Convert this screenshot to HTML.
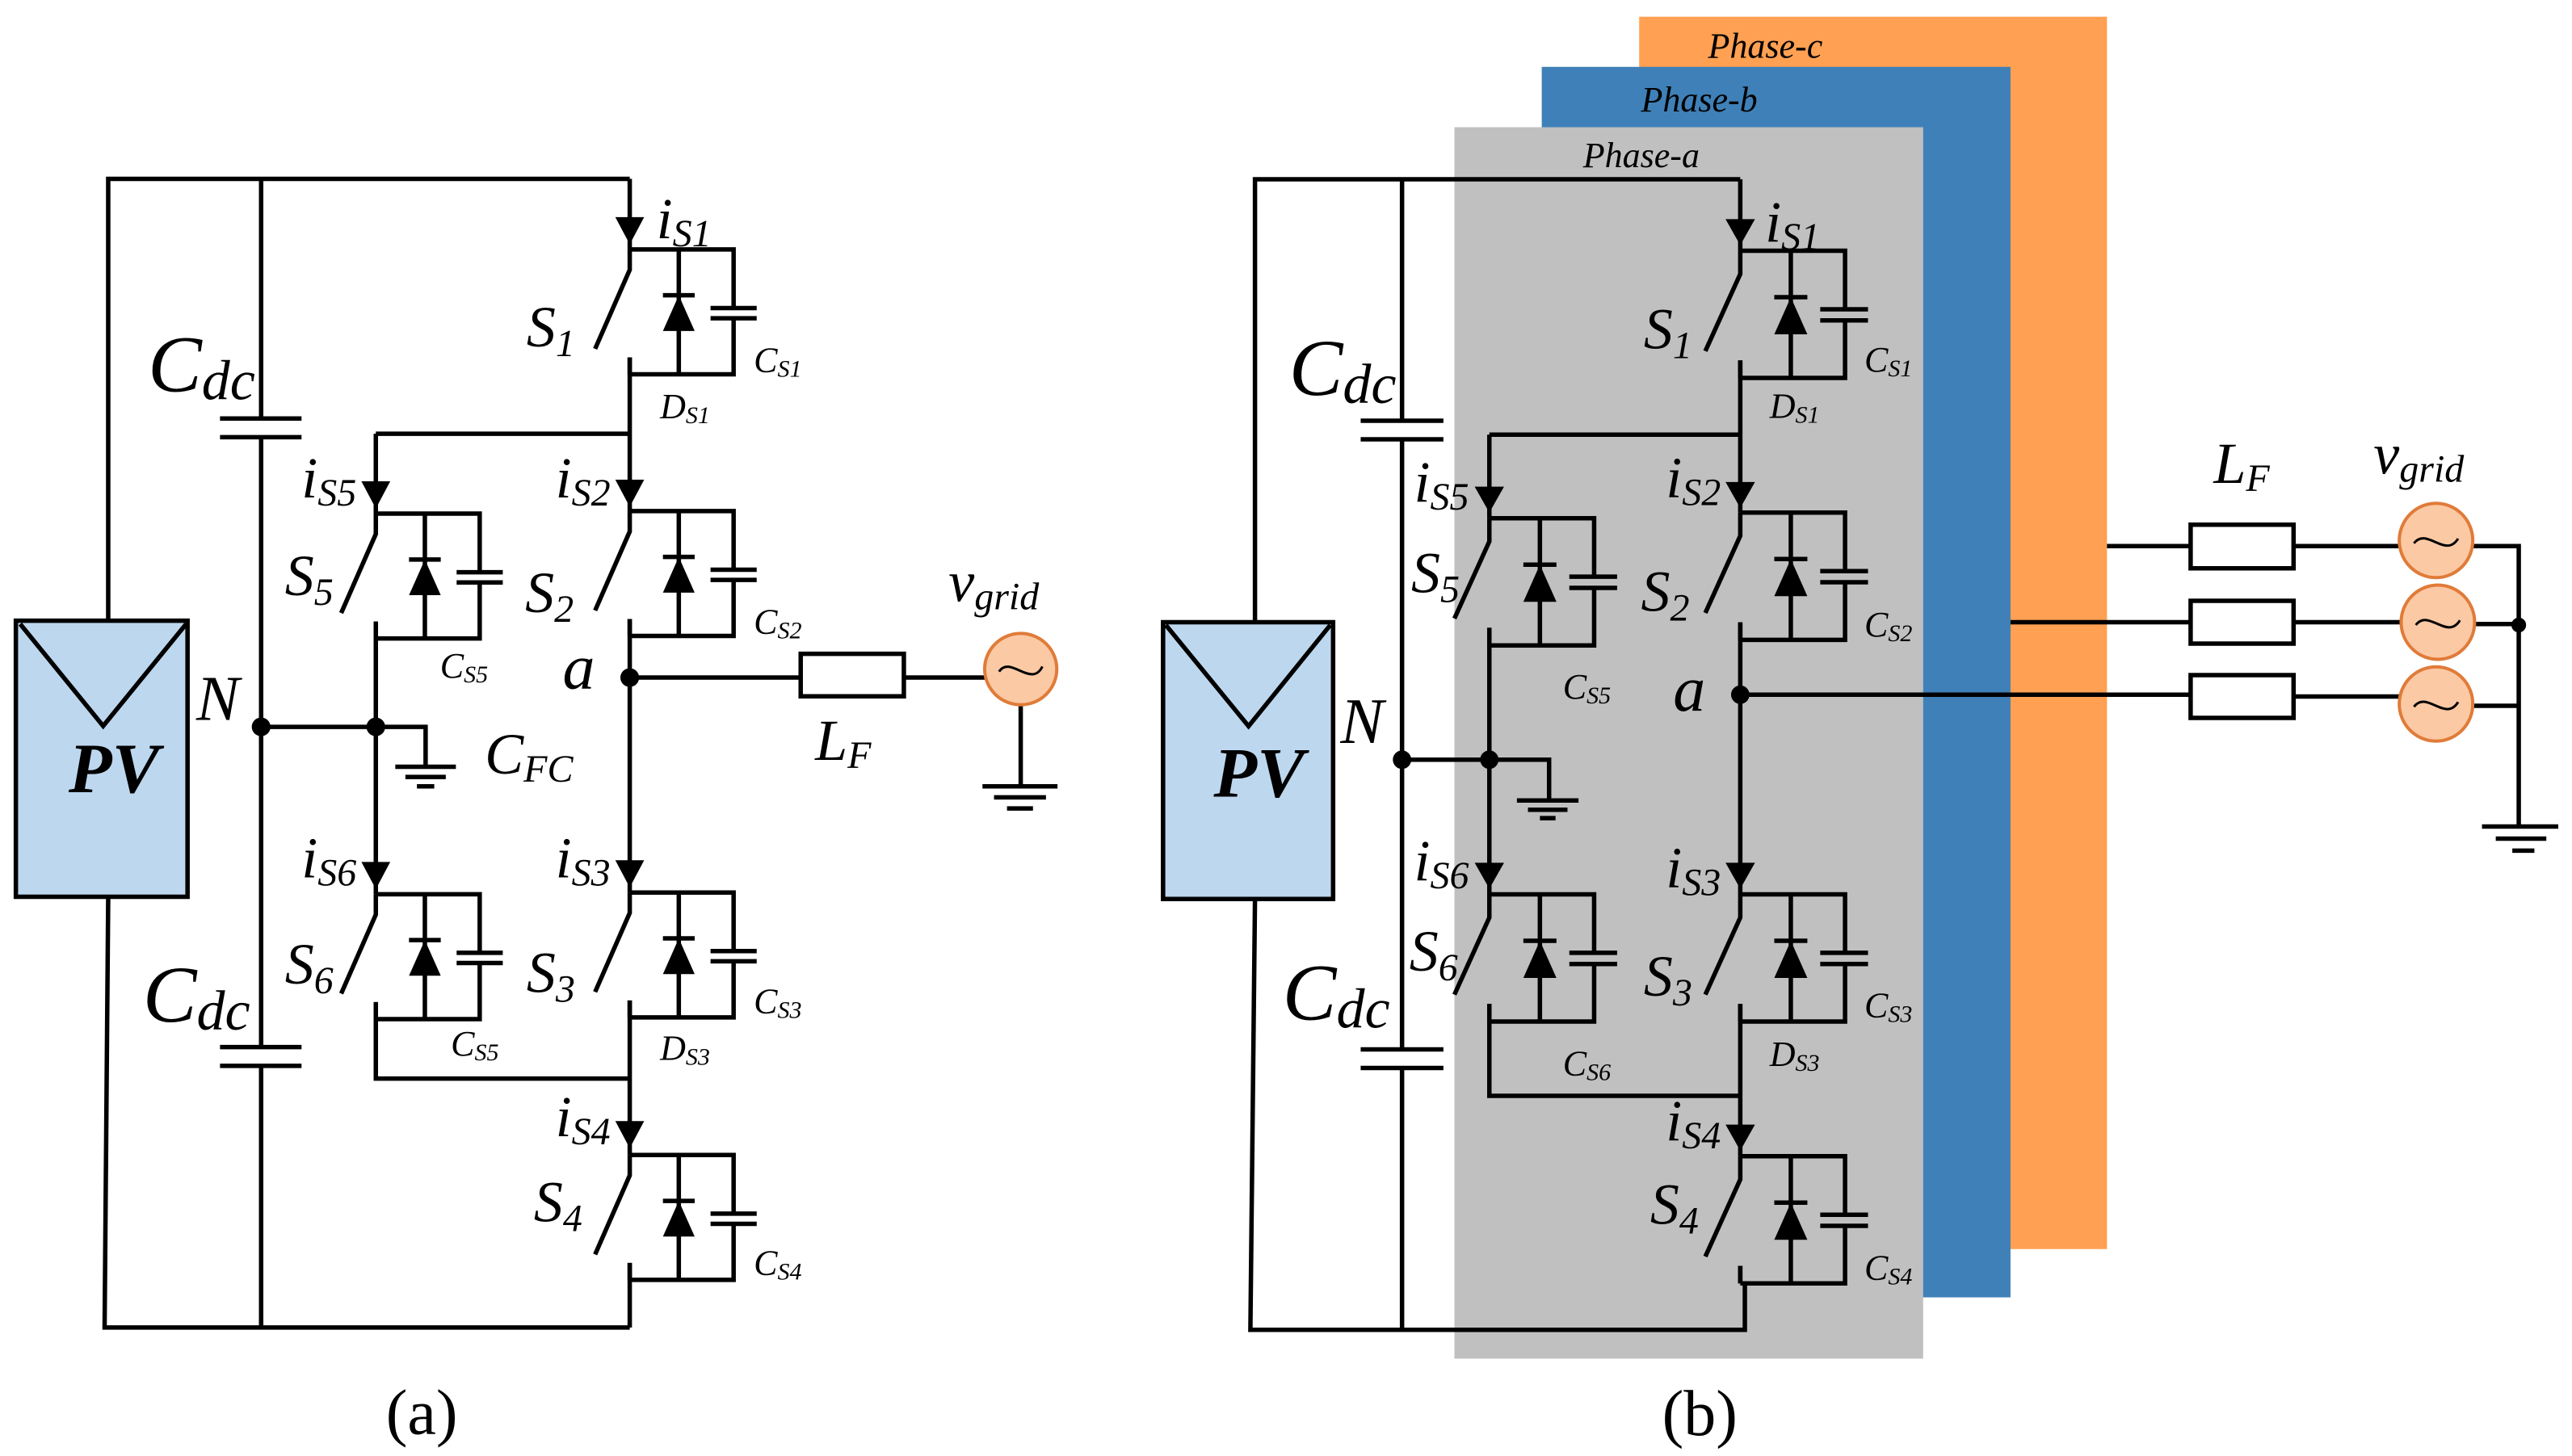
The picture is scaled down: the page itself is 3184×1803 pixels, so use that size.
<!DOCTYPE html>
<html><head><meta charset="utf-8"><style>
html,body{margin:0;padding:0;background:#fff}
svg{display:block}
.w{fill:none;stroke:#000;stroke-width:5.5;vector-effect:non-scaling-stroke;stroke-linejoin:miter}
.w *{vector-effect:non-scaling-stroke}
text{font-family:"Liberation Serif","Times New Roman","DejaVu Serif",serif;font-style:italic;fill:#000}
.L{font-size:72px}.sub{font-size:48px}
.s{font-size:44px}.ss{font-size:30px}
.big{font-size:100px}.bs{font-size:70px}
.pv{font-size:88px;font-weight:bold}
.cap{font-size:80px;font-style:normal}
.ph{font-size:44px}
</style></head><body>
<svg width="3184" height="1803" viewBox="0 0 3184 1803" xmlns="http://www.w3.org/2000/svg">
<defs>
<g id="cA">
<path class="w" d="M0,0 H144 V69 M144,81 V147 H0 M112,69 H176 M112,81 H176 M68,0 V147 M46,54 H90 M0,0 V24 L-48,117 M0,127 V147"/>
<polygon points="46,96 90,96 68,54" fill="#000"/>
</g>
<g id="cB">
<path class="w" d="M0,0 H114 V63 M114,75 V137 H0 M87,63 H139 M87,75 H139 M55,0 V137 M37,50 H73 M0,0 V25 L-38,108 M0,118 V137"/>
<polygon points="37,90 73,90 55,50" fill="#000"/>
</g>
<polygon id="arA" points="-20,-32 20,-32 0,0" fill="#000"/>
<polygon id="arB" points="-16,-28 16,-28 0,0" fill="#000"/>
</defs>

<!-- Panel A -->
<g transform="translate(0,150) scale(0.893,1.052)">
<rect x="22" y="588" width="238" height="325" class="w" style="fill:#bdd7ee"/>
<path class="w" d="M28,592 L143,712 L258,592"/>
<path class="w" d="M150,588 V68 H873 M150,913 L145,1420 H873
M362,68 V350 M305,350 H418 M305,372 H418 M362,372 V1090 M305,1090 H418 M305,1112 H418 M362,1112 V1420
M362,713 H590 V760 M548,760 H632 M562,772 H618 M578,783 H602
M873,68 V151 M873,278 V459 M873,586 V908 M873,1035 V1217 M873,1344 V1420
M521,368 H873 M521,368 V462 M521,589 V910 M521,1037 V1127 H873
M873,655 H1110 M1253,655 H1366 M1415,688 V783 M1362,783 H1466 M1378,796 H1450 M1396,809 H1432"/>
<rect x="1110" y="627" width="143" height="50" class="w" fill="none"/>
<ellipse cx="1415" cy="645" rx="50" ry="42" fill="#fbc9a4" stroke="#e07b39" stroke-width="4" vector-effect="non-scaling-stroke"/>
<path class="w" d="M1385,648 C1400,628 1430,668 1445,642" style="stroke-width:3"/>
<use href="#cA" x="873" y="151"/><use href="#cA" x="873" y="459"/><use href="#cA" x="873" y="908"/><use href="#cA" x="873" y="1217"/>
<use href="#cA" x="521" y="462"/><use href="#cA" x="521" y="910"/>
<use href="#arA" x="873" y="145"/><use href="#arA" x="873" y="454"/><use href="#arA" x="873" y="902"/><use href="#arA" x="873" y="1209"/>
<use href="#arA" x="521" y="456"/><use href="#arA" x="521" y="904"/>
<ellipse cx="362" cy="713" rx="13" ry="11"/><ellipse cx="521" cy="713" rx="13" ry="11"/><ellipse cx="873" cy="655" rx="13" ry="11"/>

<text class="pv" transform="translate(95,790) scale(1.12,0.95)">PV</text>
<text class="big" transform="translate(205,318) scale(1.12,0.95)">C<tspan class="bs" dy="10">dc</tspan></text>
<text class="big" transform="translate(198,1060) scale(1.12,0.95)">C<tspan class="bs" dy="10">dc</tspan></text>
<text style="font-size:80px" transform="translate(272,705) scale(1.12,0.95)">N</text>
<text style="font-size:80px" transform="translate(780,668) scale(1.12,0.95)">a</text>
<text class="L" transform="translate(910,138) scale(1.12,0.95)">i<tspan class="sub" dy="10">S1</tspan></text>
<text class="L" transform="translate(730,265) scale(1.12,0.95)">S<tspan class="sub" dy="12">1</tspan></text>
<text class="s" transform="translate(1045,295) scale(1.12,0.95)">C<tspan class="ss" dy="6">S1</tspan></text>
<text class="s" transform="translate(915,350) scale(1.12,0.95)">D<tspan class="ss" dy="6">S1</tspan></text>
<text class="L" transform="translate(418,443) scale(1.12,0.95)">i<tspan class="sub" dy="10">S5</tspan></text>
<text class="L" transform="translate(770,443) scale(1.12,0.95)">i<tspan class="sub" dy="10">S2</tspan></text>
<text class="L" transform="translate(395,558) scale(1.12,0.95)">S<tspan class="sub" dy="12">5</tspan></text>
<text class="L" transform="translate(728,578) scale(1.12,0.95)">S<tspan class="sub" dy="12">2</tspan></text>
<text class="s" transform="translate(610,655) scale(1.12,0.95)">C<tspan class="ss" dy="6">S5</tspan></text>
<text class="s" transform="translate(1045,603) scale(1.12,0.95)">C<tspan class="ss" dy="6">S2</tspan></text>
<text class="L" transform="translate(672,768) scale(1.12,0.95)">C<tspan class="sub" dy="10">FC</tspan></text>
<text class="L" transform="translate(1130,752) scale(1.12,0.95)">L<tspan class="sub" dy="10">F</tspan></text>
<text class="L" transform="translate(1315,565) scale(1.12,0.95)">v<tspan class="sub" dy="10">grid</tspan></text>
<text class="L" transform="translate(418,890) scale(1.12,0.95)">i<tspan class="sub" dy="10">S6</tspan></text>
<text class="L" transform="translate(770,890) scale(1.12,0.95)">i<tspan class="sub" dy="10">S3</tspan></text>
<text class="L" transform="translate(395,1015) scale(1.12,0.95)">S<tspan class="sub" dy="12">6</tspan></text>
<text class="L" transform="translate(730,1025) scale(1.12,0.95)">S<tspan class="sub" dy="12">3</tspan></text>
<text class="s" transform="translate(625,1100) scale(1.12,0.95)">C<tspan class="ss" dy="6">S5</tspan></text>
<text class="s" transform="translate(1045,1050) scale(1.12,0.95)">C<tspan class="ss" dy="6">S3</tspan></text>
<text class="s" transform="translate(915,1105) scale(1.12,0.95)">D<tspan class="ss" dy="6">S3</tspan></text>
<text class="L" transform="translate(770,1195) scale(1.12,0.95)">i<tspan class="sub" dy="10">S4</tspan></text>
<text class="L" transform="translate(740,1295) scale(1.12,0.95)">S<tspan class="sub" dy="12">4</tspan></text>
<text class="s" transform="translate(1045,1358) scale(1.12,0.95)">C<tspan class="ss" dy="6">S4</tspan></text>
<text class="cap" transform="translate(535,1545) scale(1.12,0.95)">(a)</text>
</g>

<!-- Panel B -->
<g transform="translate(1400,0) scale(1.1378,1.15)">
<rect x="553" y="18" width="509" height="1327" fill="#ffa052"/>
<rect x="447" y="72" width="510" height="1325" fill="#3f80b8"/>
<rect x="352" y="137" width="510" height="1326" fill="#c0c0c0"/>
<rect x="35" y="670" width="185" height="298" class="w" style="fill:#bdd7ee"/>
<path class="w" d="M38,673 L128,782 L217,673"/>
<path class="w" d="M135,670 V193 H663 M135,968 L130,1432 H668 V1382
M295,193 V453 M250,453 H340 M250,473 H340 M295,473 V1130 M250,1130 H340 M250,1150 H340 M295,1150 V1432
M295,818 H455 V862 M420,862 H487 M432,872 H475 M445,881 H462
M663,193 V270 M663,388 V552 M663,670 V963 M663,1081 V1245 M663,1363 V1382
M390,468 H663 M390,468 V558 M390,676 V963 M390,1081 V1180 H663
M1062,588 H1153 M1265,588 H1381 M1459,588 H1510 V890
M957,670 H1153 M1265,670 H1383 M1461,672 H1510
M663,748 H1153 M1265,750 H1381 M1459,760 H1510
M1470,890 H1553 M1485,903 H1540 M1503,916 H1527"/>
<rect x="1153" y="565" width="112" height="47" class="w" fill="none"/>
<rect x="1153" y="647" width="112" height="46" class="w" fill="none"/>
<rect x="1153" y="727" width="112" height="46" class="w" fill="none"/>
<g fill="#fbc9a4" stroke="#e07b39" stroke-width="4">
<ellipse cx="1420" cy="582" rx="40" ry="40" vector-effect="non-scaling-stroke"/>
<ellipse cx="1422" cy="670" rx="40" ry="40" vector-effect="non-scaling-stroke"/>
<ellipse cx="1420" cy="758" rx="40" ry="40" vector-effect="non-scaling-stroke"/>
</g>
<path class="w" style="stroke-width:3" d="M1396,585 C1410,567 1430,602 1444,580 M1398,673 C1412,655 1432,690 1446,668 M1396,761 C1410,743 1430,778 1444,756"/>
<use href="#cB" x="663" y="270"/><use href="#cB" x="663" y="552"/><use href="#cB" x="663" y="963"/><use href="#cB" x="663" y="1245"/>
<use href="#cB" x="390" y="558"/><use href="#cB" x="390" y="963"/>
<use href="#arB" x="663" y="264"/><use href="#arB" x="663" y="547"/><use href="#arB" x="663" y="957"/><use href="#arB" x="663" y="1239"/>
<use href="#arB" x="390" y="552"/><use href="#arB" x="390" y="957"/>
<circle cx="295" cy="818" r="10"/><circle cx="390" cy="818" r="10"/><circle cx="663" cy="748" r="10"/><circle cx="1510" cy="673" r="8"/>

<text class="ph" transform="translate(628,62) scale(0.879,0.87)">Phase-c</text>
<text class="ph" transform="translate(555,120) scale(0.879,0.87)">Phase-b</text>
<text class="ph" transform="translate(492,180) scale(0.879,0.87)">Phase-a</text>
<text class="pv" transform="translate(90,858) scale(0.879,0.87)">PV</text>
<text class="big" transform="translate(172,425) scale(0.879,0.87)">C<tspan class="bs" dy="10">dc</tspan></text>
<text class="big" transform="translate(165,1098) scale(0.879,0.87)">C<tspan class="bs" dy="10">dc</tspan></text>
<text style="font-size:80px" transform="translate(228,800) scale(0.879,0.87)">N</text>
<text style="font-size:80px" transform="translate(590,765) scale(0.879,0.87)">a</text>
<text class="L" transform="translate(690,260) scale(0.879,0.87)">i<tspan class="sub" dy="10">S1</tspan></text>
<text class="L" transform="translate(558,375) scale(0.879,0.87)">S<tspan class="sub" dy="12">1</tspan></text>
<text class="s" transform="translate(798,400) scale(0.879,0.87)">C<tspan class="ss" dy="6">S1</tspan></text>
<text class="s" transform="translate(695,450) scale(0.879,0.87)">D<tspan class="ss" dy="6">S1</tspan></text>
<text class="L" transform="translate(308,540) scale(0.879,0.87)">i<tspan class="sub" dy="10">S5</tspan></text>
<text class="L" transform="translate(582,535) scale(0.879,0.87)">i<tspan class="sub" dy="10">S2</tspan></text>
<text class="L" transform="translate(305,638) scale(0.879,0.87)">S<tspan class="sub" dy="12">5</tspan></text>
<text class="L" transform="translate(555,658) scale(0.879,0.87)">S<tspan class="sub" dy="12">2</tspan></text>
<text class="s" transform="translate(470,752) scale(0.879,0.87)">C<tspan class="ss" dy="6">S5</tspan></text>
<text class="s" transform="translate(798,685) scale(0.879,0.87)">C<tspan class="ss" dy="6">S2</tspan></text>
<text class="L" transform="translate(308,948) scale(0.879,0.87)">i<tspan class="sub" dy="10">S6</tspan></text>
<text class="L" transform="translate(582,955) scale(0.879,0.87)">i<tspan class="sub" dy="10">S3</tspan></text>
<text class="L" transform="translate(303,1045) scale(0.879,0.87)">S<tspan class="sub" dy="12">6</tspan></text>
<text class="L" transform="translate(558,1072) scale(0.879,0.87)">S<tspan class="sub" dy="12">3</tspan></text>
<text class="s" transform="translate(470,1158) scale(0.879,0.87)">C<tspan class="ss" dy="6">S6</tspan></text>
<text class="s" transform="translate(798,1095) scale(0.879,0.87)">C<tspan class="ss" dy="6">S3</tspan></text>
<text class="s" transform="translate(695,1148) scale(0.879,0.87)">D<tspan class="ss" dy="6">S3</tspan></text>
<text class="L" transform="translate(582,1228) scale(0.879,0.87)">i<tspan class="sub" dy="10">S4</tspan></text>
<text class="L" transform="translate(565,1318) scale(0.879,0.87)">S<tspan class="sub" dy="12">4</tspan></text>
<text class="s" transform="translate(798,1378) scale(0.879,0.87)">C<tspan class="ss" dy="6">S4</tspan></text>
<text class="L" transform="translate(1178,520) scale(0.879,0.87)">L<tspan class="sub" dy="10">F</tspan></text>
<text class="L" transform="translate(1352,510) scale(0.879,0.87)">v<tspan class="sub" dy="10">grid</tspan></text>
<text class="cap" transform="translate(578,1545) scale(0.879,0.87)">(b)</text>
</g>
</svg>
</body></html>
